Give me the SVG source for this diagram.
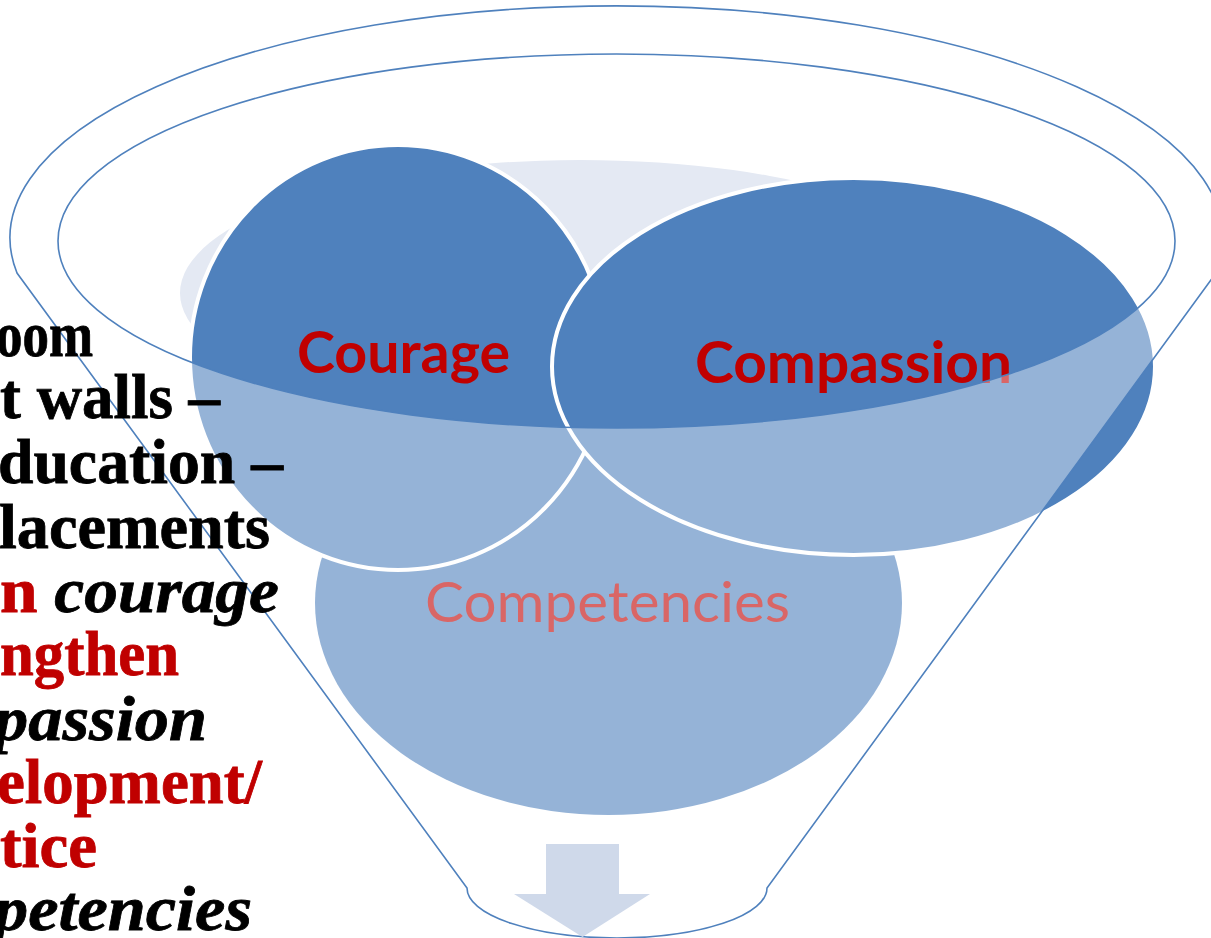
<svg xmlns="http://www.w3.org/2000/svg" width="1211" height="938" viewBox="0 0 1211 938">
<style>
.circ{fill:#4F81BD;stroke:#FFFFFF;stroke-width:4}
.lbl{font-family:"Lato","Liberation Sans",sans-serif;font-weight:bold;font-size:58px;fill:#C00000;text-anchor:middle}
.lbl2{font-family:"Lato","Liberation Sans",sans-serif;font-size:56px;fill:#C00000;text-anchor:middle}
.side{font-family:"Liberation Serif",serif;font-weight:bold;font-size:64px;stroke-width:0.8px}
.blk{fill:#000000;stroke:#000000}
.red{fill:#C00000;stroke:#C00000}
.it{font-style:italic}
</style>
<rect x="0" y="0" width="1211" height="938" fill="#FFFFFF"/>
<g id="node-back">
<ellipse cx="580" cy="293" rx="400" ry="133" fill="#E4E9F3"/>
</g>
<g id="node-competencies">
<ellipse cx="608.5" cy="603" rx="293.5" ry="212" fill="#4F81BD"/>
<text class="lbl2" x="607.5" y="622" textLength="365" lengthAdjust="spacingAndGlyphs">Competencies</text>
</g>
<g id="node-courage">
<ellipse class="circ" cx="398" cy="357.5" rx="208" ry="212.5"/>
<text class="lbl" x="403.5" y="373" textLength="213" lengthAdjust="spacingAndGlyphs">Courage</text>
</g>
<g id="node-compassion">
<ellipse class="circ" cx="853.5" cy="366.5" rx="301.5" ry="188.5"/>
<text class="lbl" x="853.5" y="383" textLength="317" lengthAdjust="spacingAndGlyphs">Compassion</text>
</g>
<g id="funnel">
<path d="M 17 273 A 606.5 232 0 1 1 1216 273 L 767 888 A 150 50 0 0 1 467 888 Z M 58 241 A 558.5 187 0 1 0 1175 241 A 558.5 187 0 1 0 58 241 Z" fill="#FFFFFF" fill-opacity="0.4" fill-rule="evenodd" stroke="#4F81BD" stroke-width="1.6"/>
</g>
<g id="connectors">
<path d="M 546 844 L 619 844 L 619 894 L 650 894 L 582.5 937 L 514 894 L 546 894 Z" fill="#CFD9EA"/>
</g>
<g id="side-text">
<text class="side blk" x="-4" y="356" textLength="97" lengthAdjust="spacingAndGlyphs">oom</text>
<text class="side blk" x="0" y="418" textLength="220" lengthAdjust="spacingAndGlyphs">t walls –</text>
<text class="side blk" x="-2" y="483" textLength="285" lengthAdjust="spacingAndGlyphs">ducation –</text>
<text class="side blk" x="-1" y="548" textLength="271" lengthAdjust="spacingAndGlyphs">lacements</text>
<text class="side" x="0" y="612" textLength="279" lengthAdjust="spacingAndGlyphs"><tspan class="red">n </tspan><tspan class="blk it">courage</tspan></text>
<text class="side red" x="0" y="675" textLength="179" lengthAdjust="spacingAndGlyphs">ngthen</text>
<text class="side blk it" x="-6" y="740" textLength="213" lengthAdjust="spacingAndGlyphs">passion</text>
<text class="side red" x="-3" y="803" textLength="265" lengthAdjust="spacingAndGlyphs">elopment/</text>
<text class="side red" x="0" y="867" textLength="97" lengthAdjust="spacingAndGlyphs">tice</text>
<text class="side blk it" x="-6" y="930" textLength="258" lengthAdjust="spacingAndGlyphs">petencies</text>
</g>
</svg>
